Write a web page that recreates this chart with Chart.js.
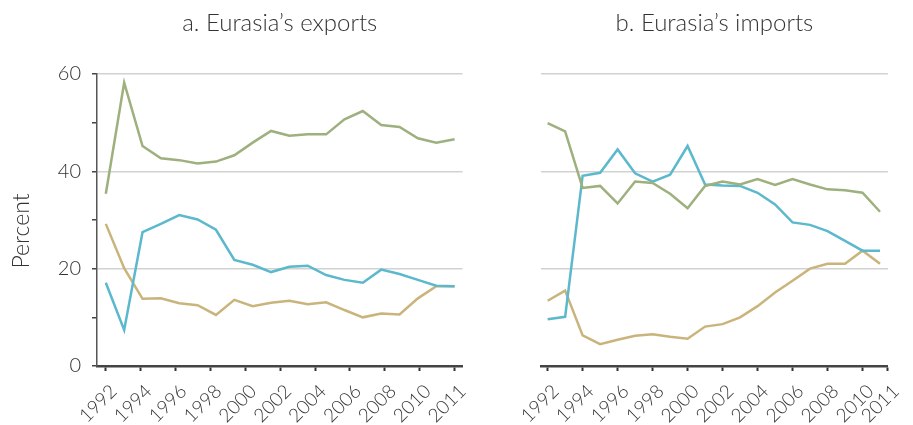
<!DOCTYPE html>
<html>
<head>
<meta charset="utf-8">
<script src="https://cdn.jsdelivr.net/npm/chart.js@4/dist/chart.umd.min.js"></script>
<style>
  body { margin: 0; background: #fff; }
  #wrap { position: relative; width: 913px; height: 425px; }
  #leftChart { position: absolute; left: 0; top: 0; }
  #rightChart { position: absolute; left: 480px; top: 0; }
</style>
</head>
<body>
<div id="wrap">
  <canvas id="leftChart" width="480" height="425"></canvas>
  <canvas id="rightChart" width="433" height="425"></canvas>
</div>
<script>
const years = [1992, 1993, 1994, 1995, 1996, 1997, 1998, 1999, 2000, 2001,
  2002, 2003, 2004, 2005, 2006, 2007, 2008, 2009, 2010, 2011]

// a. exports
const exportsGreen = [35.4, 58.2, 45.2, 42.7, 42.3, 41.6, 42.0, 43.3, 45.9, 48.3,
  47.3, 47.6, 47.6, 50.7, 52.4, 49.5, 49.1, 46.8, 45.9, 46.6]
const exportsBlue = [17.1, 7.4, 27.5, 29.2, 31.0, 30.1, 28.0, 21.8, 20.8, 19.3,
  20.4, 20.6, 18.7, 17.7, 17.1, 19.8, 18.9, 17.7, 16.5, 16.4]
const exportsTan = [29.2, 20.1, 13.8, 13.9, 12.9, 12.5, 10.5, 13.6, 12.3, 13.0,
  13.4, 12.7, 13.1, 11.5, 10.0, 10.8, 10.6, 13.9, 16.4, 16.4]

// b. imports
const importsGreen = [49.9, 48.2, 36.6, 37.0, 33.4, 37.9, 37.6, 35.4, 32.4, 37.0,
  37.9, 37.3, 38.4, 37.2, 38.4, 37.3, 36.3, 36.1, 35.6, 31.7]
const importsBlue = [9.6, 10.1, 39.1, 39.7, 44.5, 39.6, 37.9, 39.3, 45.2, 37.3,
  37.1, 37.0, 35.6, 33.2, 29.5, 29.0, 27.7, 25.7, 23.7, 23.7]
const importsTan = [13.4, 15.5, 6.3, 4.5, 5.4, 6.2, 6.5, 6.0, 5.6, 8.1,
  8.6, 10.0, 12.3, 15.1, 17.5, 20.0, 21.0, 21.0, 23.7, 21.0]

const xTickLabels = ['1992', '1994', '1996', '1998', '2000', '2002', '2004', '2006', '2008', '2010', '2011']
const yTickLabels = [0, 20, 40, 60]

const green = '#9db07d'
const blue = '#5cb8cc'
const tan = '#c9b47b'
const textColor = '#333'
const fontFamily = 'Lato, "Open Sans", sans-serif'

Chart.defaults.font.family = fontFamily
Chart.defaults.font.weight = 300
Chart.defaults.color = textColor

const panelText = {
  id: 'panelText',
  afterDraw (chart, args, opts) {
    const ctx = chart.ctx
    const area = chart.chartArea
    ctx.save()
    ctx.fillStyle = textColor
    ctx.font = `300 24px ${fontFamily}`
    ctx.textAlign = 'center'
    ctx.textBaseline = 'alphabetic'
    ctx.fillText(opts.title, (area.left + area.right) / 2, 31)
    if (opts.yTitle) {
      ctx.font = `300 23px ${fontFamily}`
      ctx.translate(28.5, 231)
      ctx.rotate(-Math.PI / 2)
      ctx.fillText(opts.yTitle, 0, 0)
    }
    ctx.restore()
  }
}

const toPoints = function (values) {
  return values.map((v, i) => ({x: years[i], y: v}))
}

const makeChart = function (id, cfg) {
  const ctx = document.getElementById(id).getContext('2d')
  return new Chart(ctx, {
    type: 'line',
    data: {
      datasets: [
        {data: toPoints(cfg.green), borderColor: green},
        {data: toPoints(cfg.blue), borderColor: blue},
        {data: toPoints(cfg.tan), borderColor: tan}
      ]
    },
    plugins: [panelText],
    options: {
      responsive: false,
      animation: false,
      layout: {padding: {top: 74, right: cfg.padRight, bottom: 0, left: 0}},
      elements: {
        line: {borderWidth: 2.5, tension: 0, borderCapStyle: 'butt'},
        point: {radius: 0}
      },
      plugins: {
        legend: {display: false},
        tooltip: {enabled: false},
        panelText: {title: cfg.title, yTitle: cfg.yTitle}
      },
      scales: {
        x: {
          type: 'linear',
          min: cfg.xMin,
          max: cfg.xMax,
          afterBuildTicks: (scale) => {
            scale.ticks = cfg.tickPos.map((v) => ({value: v}))
          },
          afterFit: (scale) => { scale.height = 59 },
          ticks: {
            autoSkip: false,
            minRotation: 45,
            maxRotation: 45,
            padding: 9,
            labelOffset: 8,
            font: {size: 19},
            callback: (v, i) => xTickLabels[i]
          },
          grid: {
            drawOnChartArea: false,
            tickLength: 5,
            tickColor: '#333',
            tickWidth: 2
          },
          border: {color: '#444', width: 2.5}
        },
        y: {
          min: 0,
          max: 60,
          afterFit: (scale) => { scale.width = cfg.yWidth },
          ticks: {
            display: cfg.showY,
            stepSize: 10,
            padding: 11,
            font: {size: 20},
            callback: (v) => yTickLabels.includes(v) ? String(v) : ''
          },
          grid: {
            color: (c) => (c.tick && c.tick.value > 0 && c.tick.value % 20 === 0) ? '#d2d2d2' : 'rgba(0,0,0,0)',
            lineWidth: 1.5,
            drawTicks: cfg.showY,
            tickLength: 5,
            tickColor: '#444',
            tickWidth: 1.5
          },
          border: {display: cfg.showY, color: '#555', width: 1.5}
        }
      }
    }
  })
}

makeChart('leftChart', {
  title: 'a. Eurasia\u2019s exports',
  yTitle: 'Percent',
  green: exportsGreen,
  blue: exportsBlue,
  tan: exportsTan,
  xMin: 1991.52,
  xMax: 2011.43,
  tickPos: xTickLabels.map((l, i) => 1992 + i * 1.9),
  yWidth: 97,
  padRight: 12,
  showY: true
})

makeChart('rightChart', {
  title: 'b. Eurasia\u2019s imports',
  yTitle: '',
  green: importsGreen,
  blue: importsBlue,
  tan: importsTan,
  xMin: 1991.62,
  xMax: 2011.45,
  tickPos: [1992, 1994, 1996, 1998, 2000, 2002, 2004, 2006, 2008, 2010, 2011.45],
  yWidth: 61,
  padRight: 2,
  showY: false
})
</script>
</body>
</html>
